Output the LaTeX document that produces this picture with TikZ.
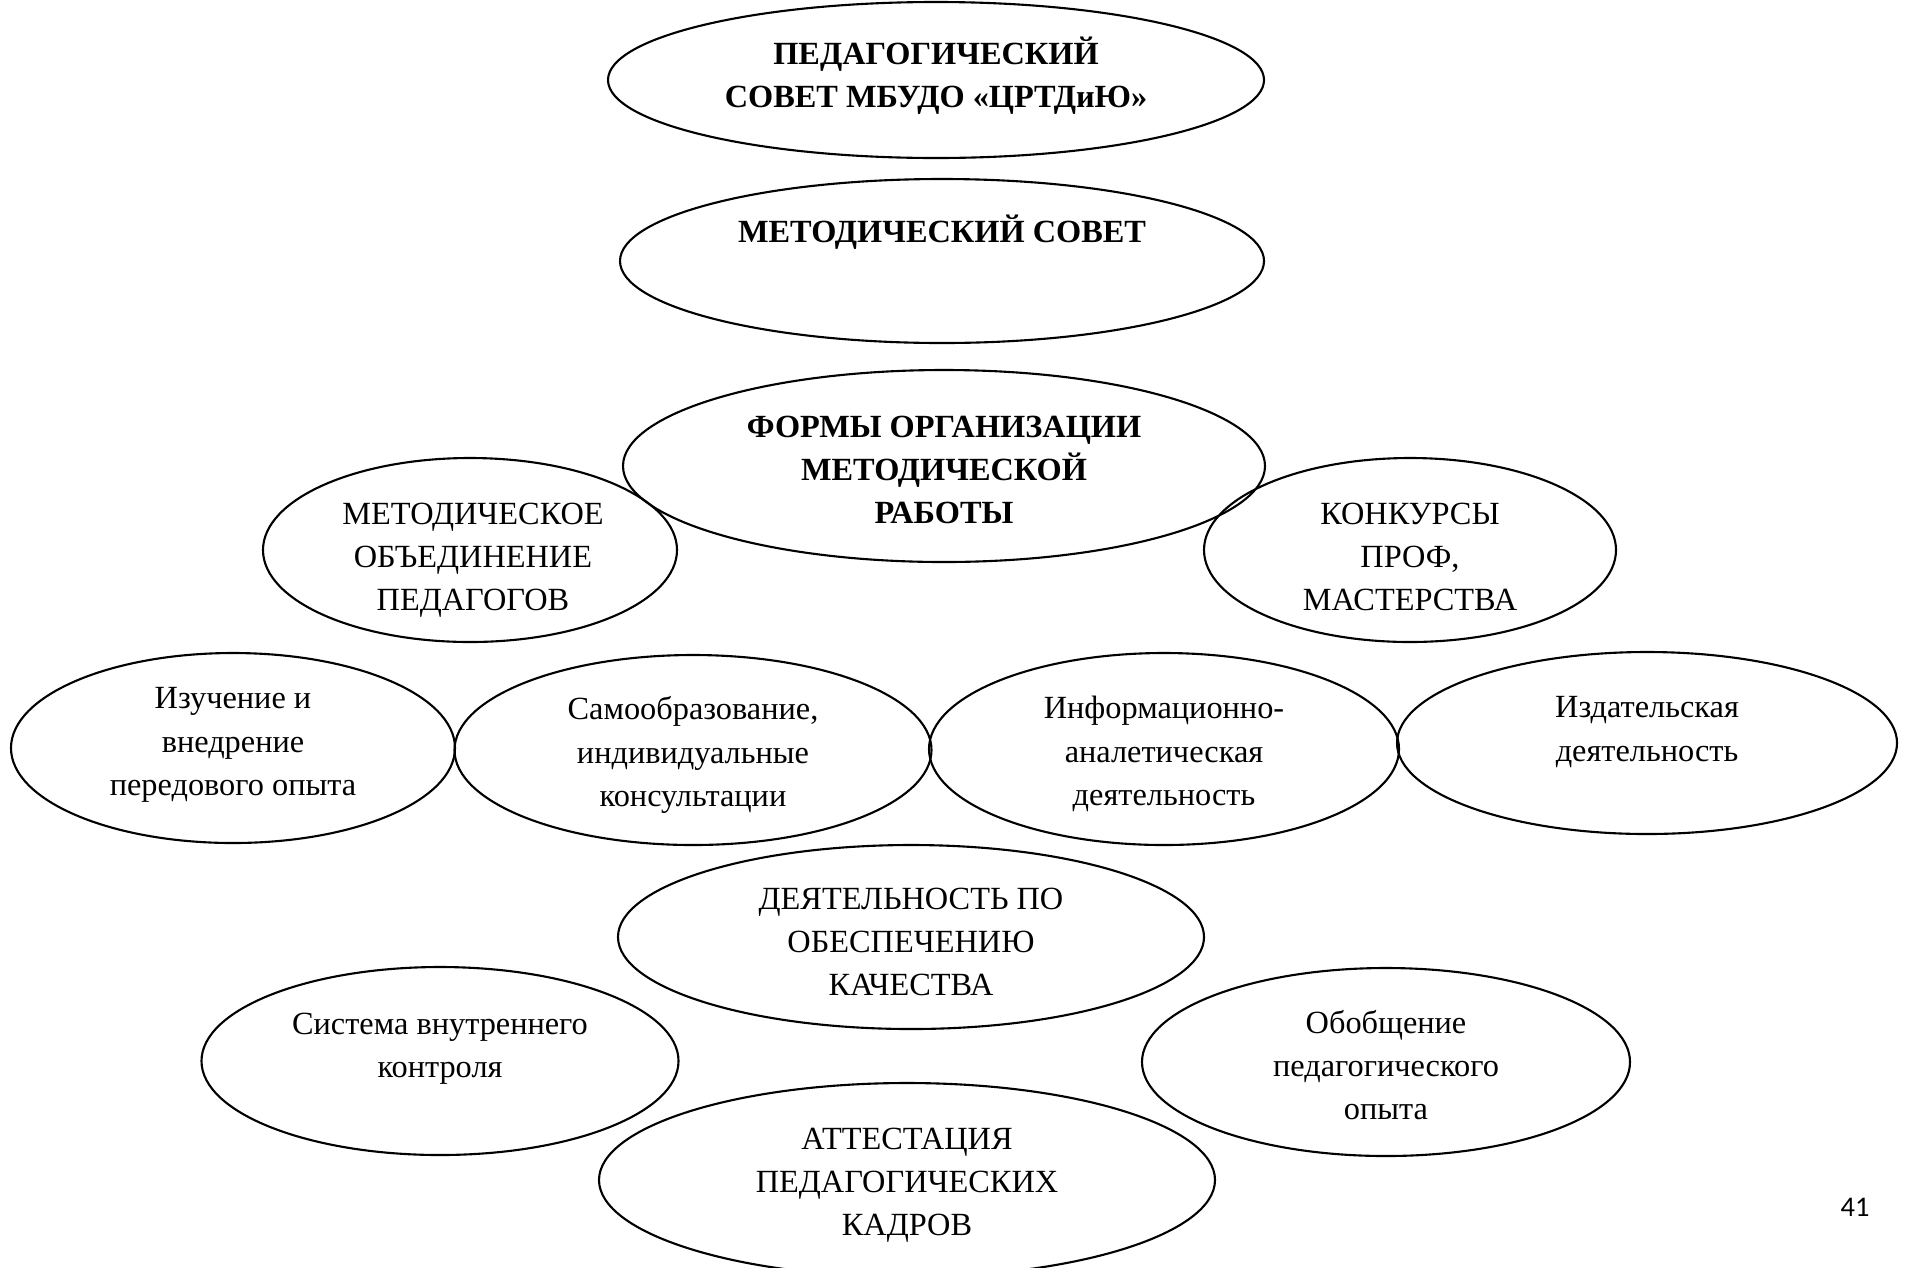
\documentclass[tikz,border=0pt]{standalone}
\usepackage{fontspec}
\setmainfont{Liberation Serif}
\newfontfamily\pagefont{Carlito}
\usetikzlibrary{shapes.geometric, calc}

\begin{document}
\begin{tikzpicture}[
		form/.style = {draw, ellipse, line width = 0.6pt, inner sep = 0pt},
		caption/.style = {align = center, inner sep = 0pt, font = \fontsize{9.2}{12.3}\selectfont},
		bold caption/.style = {caption, font = \fontsize{9.2}{12.3}\selectfont\bfseries},
		dims/.style 2 args = {minimum width = #1cm, minimum height = #2cm}
	]
		\useasboundingbox (0,0) rectangle (19.06,-12.67);
		\clip (0,0) rectangle (19.06,-12.67);
		
		%councils
		\node [form, dims = {6.56}{1.56}] (pedsovet) at (9.36,-0.80) {};
		\node [bold caption] (pedsovet text) at ($ (pedsovet) + (0,0.04) $) {ПЕДАГОГИЧЕСКИЙ\\СОВЕТ МБУДО «ЦРТДиЮ»};
		
		\node [form, dims = {6.44}{1.64}] (metsovet) at (9.42,-2.61) {};
		\node [bold caption] (metsovet text) at ($ (metsovet) + (0,0.29) $) {МЕТОДИЧЕСКИЙ СОВЕТ};
		
		\node [form, dims = {6.42}{1.92}] (formy) at (9.44,-4.66) {};
		\node [bold caption] (formy text) at ($ (formy) + (0,-0.04) $) {ФОРМЫ ОРГАНИЗАЦИИ\\МЕТОДИЧЕСКОЙ\\РАБОТЫ};
		
		%forms
		\node [form, dims = {4.14}{1.84}] (objedinenie) at (4.70,-5.50) {};
		\node [caption] (objedinenie text) at ($ (objedinenie) + (0.03,-0.10) $) {МЕТОДИЧЕСКОЕ\\ОБЪЕДИНЕНИЕ\\ПЕДАГОГОВ};
		
		\node [form, dims = {4.12}{1.84}] (konkursy) at (14.10,-5.50) {};
		\node [caption] (konkursy text) at ($ (konkursy) + (0,-0.07) $) {КОНКУРСЫ\\ПРОФ,\\МАСТЕРСТВА};
		
		\node [form, dims = {4.44}{1.90}] (izuchenie) at (2.33,-7.48) {};
		\node [caption] (izuchenie text) at ($ (izuchenie) + (0,0.03) $) {Изучение и\\внедрение\\передового опыта};
		
		\node [form, dims = {4.77}{1.90}] (samoobr) at (6.93,-7.50) {};
		\node [caption] (samoobr text) at ($ (samoobr) + (0,-0.05) $) {Самообразование,\\индивидуальные\\консультации};
		
		\node [form, dims = {4.70}{1.92}] (inform) at (11.64,-7.49) {};
		\node [caption] (inform text) at ($ (inform) + (0,-0.05) $) {Информационно-\\аналетическая\\деятельность};
		
		\node [form, dims = {5.00}{1.82}] (izdat) at (16.47,-7.43) {};
		\node [caption] (izdat text) at ($ (izdat) + (0,0.11) $) {Издательская\\деятельность};
		
		\node [form, dims = {5.86}{1.84}] (kachestvo) at (9.11,-9.37) {};
		\node [caption] (kachestvo text) at ($ (kachestvo) + (0,-0.05) $) {ДЕЯТЕЛЬНОСТЬ ПО\\ОБЕСПЕЧЕНИЮ\\КАЧЕСТВА};
		
		\node [form, dims = {4.77}{1.88}] (kontrol) at (4.40,-10.61) {};
		\node [caption] (kontrol text) at ($ (kontrol) + (0,0.12) $) {Система внутреннего\\контроля};
		
		\node [form, dims = {4.88}{1.88}] (obobshchenie) at (13.86,-10.62) {};
		\node [caption] (obobshchenie text) at ($ (obobshchenie) + (0,-0.03) $) {Обобщение\\педагогического\\опыта};
		
		\node [form, dims = {6.16}{1.94}] (attestacija) at (9.07,-11.80) {};
		\node [caption] (attestacija text) at ($ (attestacija) + (0,-0.05) $) {АТТЕСТАЦИЯ\\ПЕДАГОГИЧЕСКИХ\\КАДРОВ};
		
		%page number
		\node [inner sep = 0pt, font = \pagefont\fontsize{8.1}{9}\selectfont] (page) at (18.55,-12.07) {41};
	\end{tikzpicture}
\end{document}
